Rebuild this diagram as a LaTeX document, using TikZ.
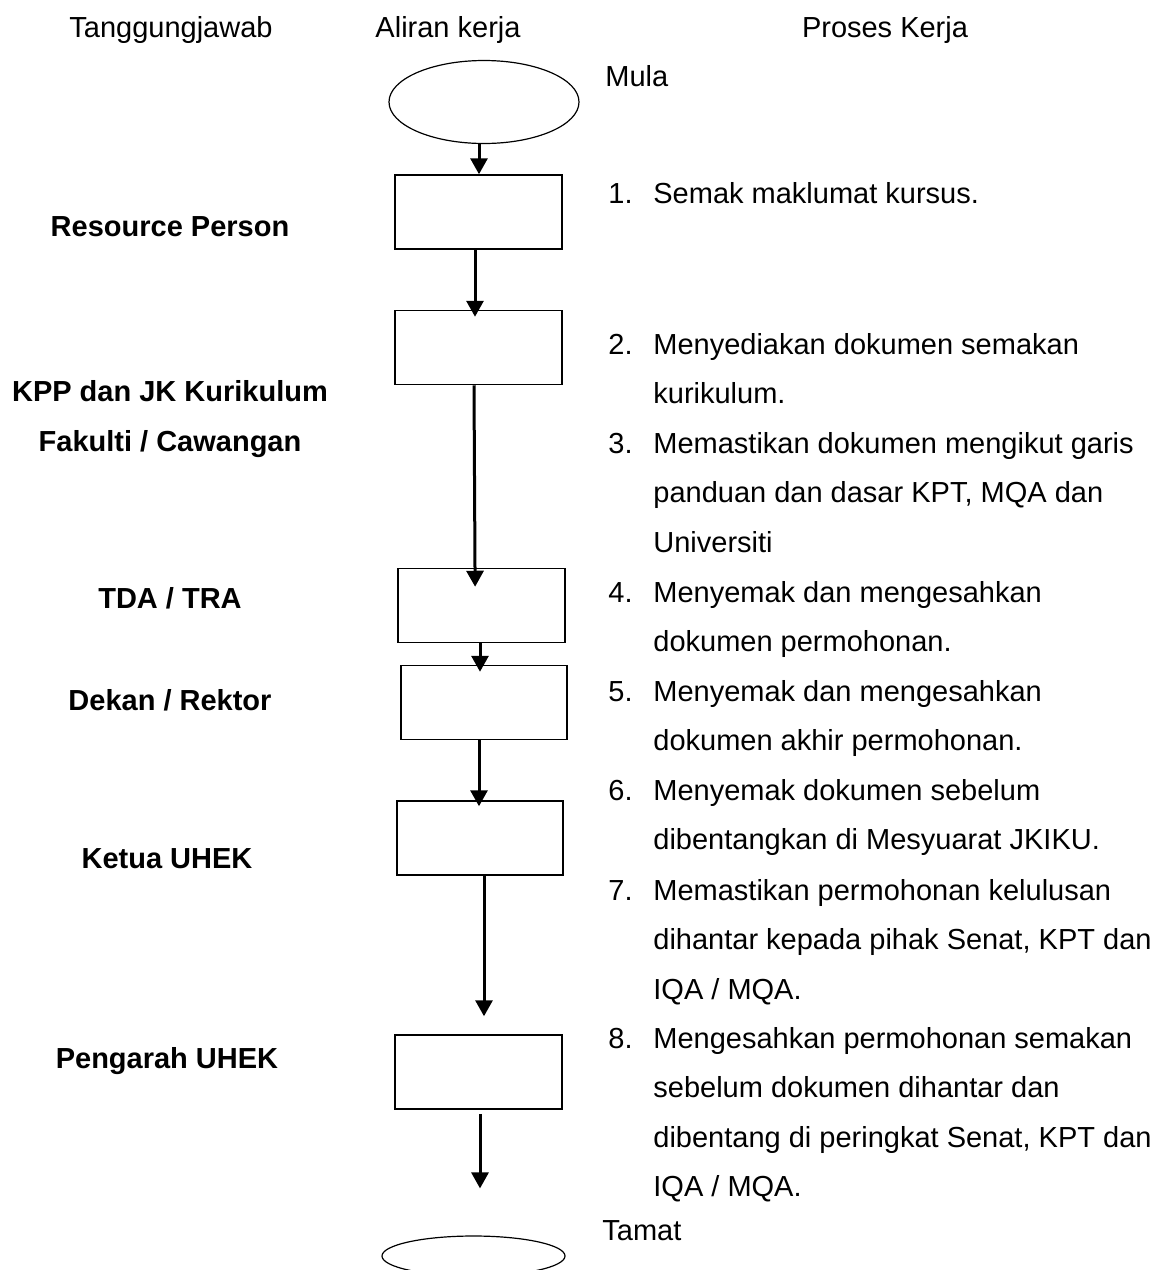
\documentclass[tikz,border=0pt]{standalone}
\usepackage{fontspec}
\setmainfont{Liberation Sans}
\usetikzlibrary{shapes.geometric,arrows.meta}
\newcommand{\itemtext}[1]{\parbox[t]{260pt}{\raggedright #1}}
\begin{document}
\begin{tikzpicture}[x=0.5pt,y=-0.5pt,
  every node/.style={inner sep=0pt, font=\fontsize{14.5}{24.8}\selectfont},
  hdr/.style={anchor=base},
  role/.style={anchor=base, font=\fontsize{14.5}{24.8}\selectfont\bfseries},
  num/.style={anchor=base west},
  txt/.style={anchor=base west},
  term/.style={draw, ellipse, line width=0.6pt},
  stepbox/.style={draw, rectangle, line width=0.75pt, minimum width=83.5pt, minimum height=37pt},
  arr/.style={line width=1.5pt, -{Triangle[width=8.5pt,length=8pt]}}
]
\useasboundingbox (0,0) rectangle (1166,1270);
\clip (0,0) rectangle (1166,1270);

% headers
\node[hdr] (h1) at (171,37) {Tanggungjawab};
\node[hdr] (h2) at (448,37) {Aliran kerja};
\node[hdr] (h3) at (885,37) {Proses Kerja};

% flow shapes
\node[term, minimum width=95pt, minimum height=41.5pt] (start) at (484,102) {};
\node[stepbox] (b1) at (478.5,212) {};
\node[stepbox] (b2) at (478.5,347.5) {};
\node[stepbox] (b3) at (481.5,605.5) {};
\node[stepbox, minimum width=83pt] (b4) at (484,702.5) {};
\node[stepbox, minimum width=83pt] (b5) at (480,838) {};
\node[stepbox] (b6) at (478.5,1072) {};
\node[term, minimum width=91.5pt, minimum height=20pt] (end) at (473.5,1256) {};

% connectors
\draw[arr] ([xshift=-2.5pt]start.south) -- ([xshift=0.25pt]b1.north);
\draw[arr, shorten >=-3.5pt] ([xshift=-1.75pt]b1.south) -- ([xshift=-1.75pt]b2.north);
\draw[arr, shorten >=-9.5pt] ([xshift=-2.25pt]b2.south) -- ([xshift=-3.25pt]b3.north);
\draw[arr, shorten >=-3.5pt] ([xshift=-0.75pt]b3.south) -- ([xshift=-2pt]b4.north);
\draw[arr, shorten >=-3pt] ([xshift=-2.5pt]b4.south) -- ([xshift=-0.5pt]b5.north);
\draw[arr, shorten >=9pt] ([xshift=2pt]b5.south) -- ([xshift=2.75pt]b6.north);
\draw[arr, shorten <=2pt, shorten >=23.5pt] ([xshift=0.75pt]b6.south) -- ([xshift=3.25pt]end.north);

% roles
\node[role] (r1) at (170,236) {Resource Person};
\node[role] (r2a) at (170,401) {KPP dan JK Kurikulum};
\node[role] (r2b) at (170,451) {Fakulti / Cawangan};
\node[role] (r3) at (170,608) {TDA / TRA};
\node[role] (r4) at (170,710) {Dekan / Rektor};
\node[role] (r5) at (167,868) {Ketua UHEK};
\node[role] (r6) at (167,1068) {Pengarah UHEK};

% process text
\node[txt] (mula) at (605,86) {Mula};
\node[num] (n1) at (608,203) {1.};
\node[txt] (t1) at (653,203) {\itemtext{Semak maklumat kursus.}};
\node[num] (n2) at (608,354) {2.};
\node[txt] (t2) at (653,354) {\itemtext{Menyediakan dokumen semakan\\kurikulum.}};
\node[num] (n3) at (608,453) {3.};
\node[txt] (t3) at (653,453) {\itemtext{Memastikan dokumen mengikut garis\\panduan dan dasar KPT, MQA dan\\Universiti}};
\node[num] (n4) at (608,602) {4.};
\node[txt] (t4) at (653,602) {\itemtext{Menyemak dan mengesahkan\\dokumen permohonan.}};
\node[num] (n5) at (608,701) {5.};
\node[txt] (t5) at (653,701) {\itemtext{Menyemak dan mengesahkan\\dokumen akhir permohonan.}};
\node[num] (n6) at (608,800) {6.};
\node[txt] (t6) at (653,800) {\itemtext{Menyemak dokumen sebelum\\dibentangkan di Mesyuarat JKIKU.}};
\node[num] (n7) at (608,900) {7.};
\node[txt] (t7) at (653,900) {\itemtext{Memastikan permohonan kelulusan\\dihantar kepada pihak Senat, KPT dan\\IQA / MQA.}};
\node[num] (n8) at (608,1048) {8.};
\node[txt] (t8) at (653,1048) {\itemtext{Mengesahkan permohonan semakan\\sebelum dokumen dihantar dan\\dibentang di peringkat Senat, KPT dan\\IQA / MQA.}};
\node[txt] (tamat) at (602,1240) {Tamat};
\end{tikzpicture}
\end{document}
